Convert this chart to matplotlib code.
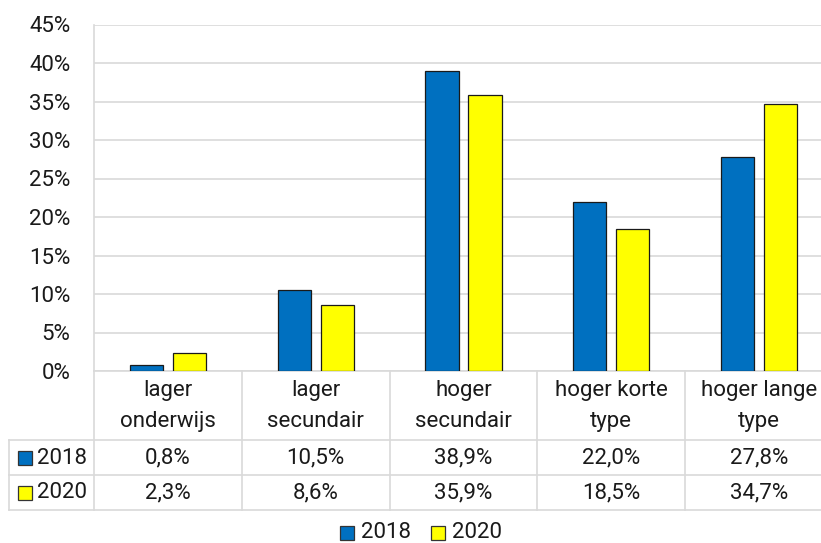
import matplotlib
matplotlib.use("Agg")
import matplotlib.pyplot as plt
from matplotlib.patches import Rectangle
import matplotlib.transforms as mtransforms

plt.rcParams['font.family'] = ['Roboto', 'DejaVu Sans']

categories = ["lager\nonderwijs", "lager\nsecundair", "hoger\nsecundair",
              "hoger korte\ntype", "hoger lange\ntype"]
series_names = ["2018", "2020"]
v2018 = [0.8, 10.5, 38.9, 22.0, 27.8]
v2020 = [2.3, 8.6, 35.9, 18.5, 34.7]
labels2018 = ["0,8%", "10,5%", "38,9%", "22,0%", "27,8%"]
labels2020 = ["2,3%", "8,6%", "35,9%", "18,5%", "34,7%"]
yticks = [0, 5, 10, 15, 20, 25, 30, 35, 40, 45]

blue = "#0070C0"
yellow = "#FFFF00"
grid = "#D9D9D9"
txt = "#1a1a1a"
fs = 16
W, H = 821, 543

fig = plt.figure(figsize=(W / 100, H / 100), dpi=100)
# plot area in pixels: left 94, right ~833, top 24.5, bottom 371
ax = fig.add_axes([94 / W, (H - 371) / H, (833 - 94) / W, (371 - 24.5) / H])

x = list(range(len(categories)))
bw = 0.225
off = 0.145
ax.bar([i - off for i in x], v2018, bw, color=blue, edgecolor=txt, linewidth=0.9, zorder=3)
ax.bar([i + off for i in x], v2020, bw, color=yellow, edgecolor=txt, linewidth=0.9, zorder=3)

ax.set_xlim(-0.5, len(categories) - 0.5)
ax.set_ylim(0, 45)
ax.set_yticks(yticks)
ax.set_yticklabels([f"{t}%" for t in yticks], fontsize=fs, color=txt)
ax.tick_params(axis="y", length=0, pad=17)
ax.tick_params(axis="x", length=0, labelbottom=False)
ax.yaxis.grid(True, color=grid, linewidth=1.2, zorder=0)
for s in ["top", "right", "bottom"]:
    ax.spines[s].set_visible(False)
ax.spines["left"].set_color(grid)
ax.spines["left"].set_linewidth(1.2)

# data table below the axes
ah = 371 - 24.5
def ypx(p):
    return -(p - 371) / ah

tr = mtransforms.blended_transform_factory(ax.transData, ax.transAxes)
lkw = dict(color=grid, linewidth=1.2, clip_on=False)
x_left = -0.5 - (94 - 9) / ((833 - 94) / len(categories))
ax.plot([-0.5, 4.5], [ypx(371), ypx(371)], transform=tr, **lkw)
for yy in [440, 475, 510]:
    ax.plot([x_left, 4.5], [ypx(yy), ypx(yy)], transform=tr, **lkw)
for b in [-0.5 + k for k in range(len(categories) + 1)]:
    ax.plot([b, b], [ypx(371), ypx(510)], transform=tr, **lkw)
ax.plot([x_left, x_left], [ypx(440), ypx(510)], transform=tr, **lkw)

for i, c in enumerate(categories):
    ax.text(i, ypx(406), c, transform=tr, ha="center", va="center",
            fontsize=fs, color=txt, linespacing=1.6)
    ax.text(i, ypx(458), labels2018[i], transform=tr, ha="center", va="center",
            fontsize=fs, color=txt)
    ax.text(i, ypx(493), labels2020[i], transform=tr, ha="center", va="center",
            fontsize=fs, color=txt)

# series keys in the table
for yy, col, name in [(458, blue, series_names[0]), (493, yellow, series_names[1])]:
    fig.patches.append(Rectangle((17.5 / W, (H - yy - 7) / H), 14 / W, 14 / H,
                                 transform=fig.transFigure, facecolor=col,
                                 edgecolor="#333333", linewidth=0.9))
    fig.text(37 / W, (H - yy) / H, name, ha="left", va="center",
             fontsize=fs, color=txt)

# legend at bottom
for xx, col, name in [(339.5, blue, series_names[0]), (430.5, yellow, series_names[1])]:
    fig.patches.append(Rectangle((xx / W, (H - 540) / H), 14 / W, 14 / H,
                                 transform=fig.transFigure, facecolor=col,
                                 edgecolor="#333333", linewidth=0.9))
    fig.text((xx + 21) / W, (H - 533) / H, name, ha="left", va="center",
             fontsize=fs, color=txt)

fig.savefig("out.png", dpi=100)
